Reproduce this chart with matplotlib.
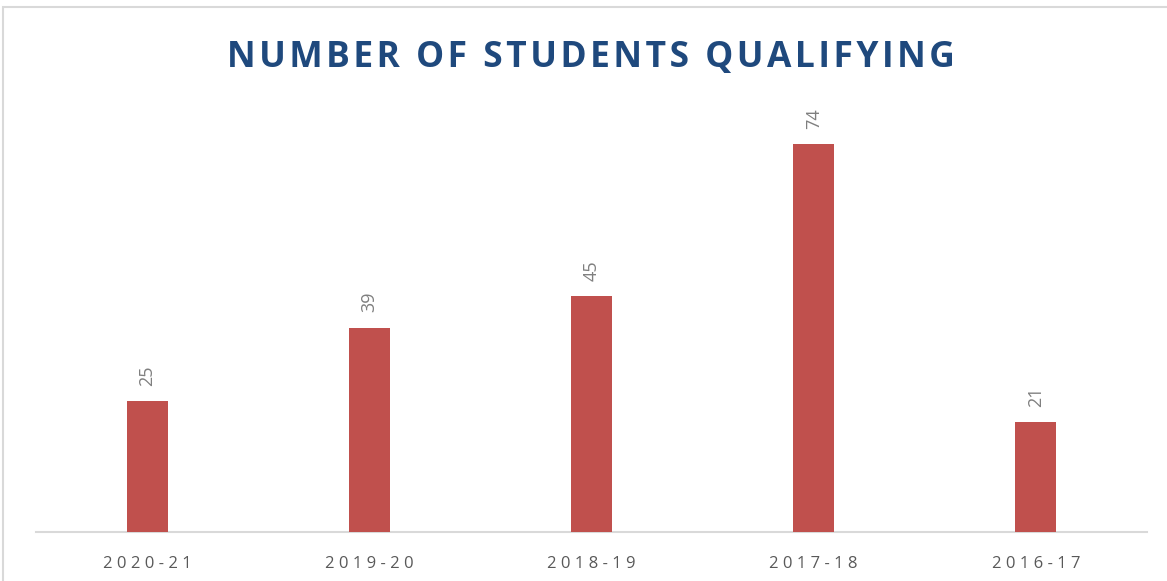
import matplotlib.pyplot as plt
import matplotlib.patches as patches

years = ['2020-21', '2019-20', '2018-19', '2017-18', '2016-17']
students = [25, 39, 45, 74, 21]

bar_color = '#C0504D'
title_color = '#1F497D'
text_gray = '#595959'
label_gray = '#7F7F7F'


def spaced(s, sep='\u200a'):
    return sep.join(s)


fig = plt.figure(figsize=(11.67, 5.81), dpi=100)
fig.patch.set_facecolor('white')

# light border of the chart area
border = patches.Rectangle((3 / 1167, -0.1), 1.2, 1.1 - 6.5 / 581, transform=fig.transFigure,
                           fill=False, edgecolor='#D9D9D9', linewidth=1.5)
fig.patches.append(border)

ax = fig.add_axes([36 / 1167, 1 - 532 / 581, (1147 - 36) / 1167, 432 / 581])
x = range(len(years))
bars = ax.bar(x, students, width=0.185, color=bar_color, zorder=3)
ax.set_xlim(-0.5, len(years) - 0.5)
ax.set_ylim(0, 82.4)

for rect, v in zip(bars, students):
    ax.annotate(str(v), (rect.get_x() + rect.get_width() / 2, rect.get_height()),
                xytext=(0, 11), textcoords='offset points', rotation=90,
                ha='center', va='bottom', color=label_gray, fontsize=13,
                family=['Open Sans', 'DejaVu Sans'])

ax.set_xticks(list(x))
ax.set_xticklabels([spaced(y, ' ') for y in years], color=text_gray, fontsize=12,
                   family=['Open Sans', 'DejaVu Sans'])
ax.tick_params(axis='x', length=0, pad=17)
ax.set_yticks([])
for side in ['top', 'right', 'left']:
    ax.spines[side].set_visible(False)
ax.spines['bottom'].set_color('#D9D9D9')
ax.spines['bottom'].set_linewidth(1.5)

fig.text(591 / 1167, 1 - 58 / 581, spaced('NUMBER OF STUDENTS QUALIFYING', '\u200a'),
         ha='center', va='center', color=title_color, fontsize=25.5, fontweight='bold',
         family=['Open Sans', 'DejaVu Sans'])

plt.savefig('out.png', dpi=100, facecolor='white')
